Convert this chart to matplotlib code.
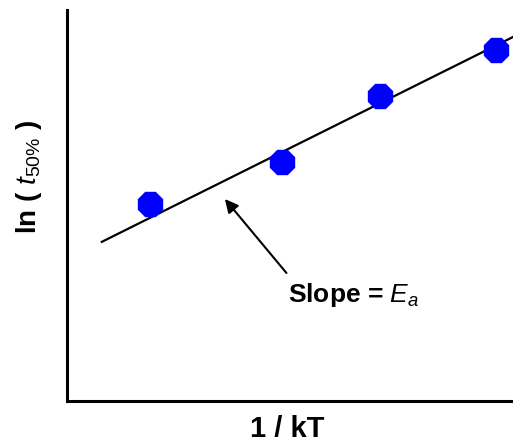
import matplotlib
matplotlib.use("Agg")
from matplotlib import pyplot as plt

plt.rcParams["mathtext.fontset"] = "custom"
plt.rcParams["mathtext.rm"] = "Liberation Sans"
plt.rcParams["mathtext.it"] = "Liberation Sans:italic"
plt.rcParams["mathtext.bf"] = "Liberation Sans:bold"

# Data (normalised axis units)
inv_kT = [0.186, 0.482, 0.702, 0.962]
ln_t50 = [0.504, 0.611, 0.780, 0.898]
fit_x = [0.078, 1.0]
fit_y = [0.407, 0.931]

fig = plt.figure(figsize=(5.13, 4.46), dpi=100)
ax = fig.add_axes([67 / 513, 45 / 446, 446 / 513, 391 / 446])
ax.set_xlim(0, 1)
ax.set_ylim(0, 1)

ax.plot(fit_x, fit_y, color="black", lw=1.6, zorder=2)
ax.plot(inv_kT, ln_t50, ls="none", marker="8", ms=19, color="#0000ff", mec="#0000ff", zorder=3)

# Arrow pointing at the fit line
ax.annotate("", xy=(0.350, 0.522), xytext=(0.496, 0.322),
            arrowprops=dict(arrowstyle="-|>", color="black", lw=1.5, mutation_scale=20))
ax.text(0.496, 0.270, r"Slope = $\mathit{E}_{\mathit{a}}$", fontsize=19, fontweight="bold",
        family="Liberation Sans", va="center", ha="left")

for s in ["top", "right"]:
    ax.spines[s].set_visible(False)
for s in ["left", "bottom"]:
    ax.spines[s].set_linewidth(2.2)
ax.set_xticks([])
ax.set_yticks([])

fig.text(287 / 513, 1 - 429 / 446, "1 / kT", fontsize=21, fontweight="bold",
         family="Liberation Sans", ha="center", va="center")
fig.text(29 / 513, 1 - 177 / 446, r"ln ( $\mathit{t}_{\mathrm{50\%}}$ )", fontsize=20, fontweight="bold",
         family="Liberation Sans", ha="center", va="center", rotation=90)

fig.savefig("out.png", dpi=100)
